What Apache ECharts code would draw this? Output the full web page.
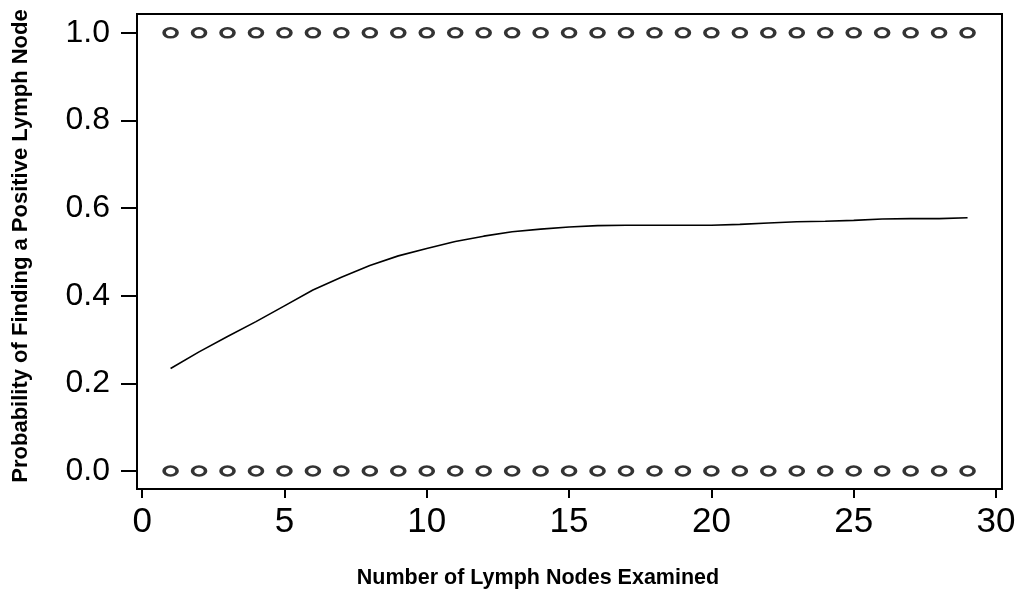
<!DOCTYPE html>
<html>
<head>
<meta charset="utf-8">
<title>Probability of Finding a Positive Lymph Node</title>
<script src="https://cdn.jsdelivr.net/npm/echarts@6/dist/echarts.min.js"></script>
<style>
  html, body { margin: 0; padding: 0; background: #fff; }
  #chart { width: 1024px; height: 592px; }
</style>
</head>
<body>
<div id="chart"></div>
<script>
// Number of lymph nodes examined (x positions)
const nodeCounts = [1, 2, 3, 4, 5, 6, 7, 8, 9, 10, 11, 12, 13, 14, 15,
                    16, 17, 18, 19, 20, 21, 22, 23, 24, 25, 26, 27, 28, 29];
// Fitted probability of finding a positive node
const fittedProb = [0.234, 0.272, 0.307, 0.341, 0.377, 0.413, 0.442, 0.469, 0.491, 0.508,
                    0.524, 0.536, 0.546, 0.552, 0.557, 0.560, 0.561, 0.561, 0.561, 0.561,
                    0.563, 0.566, 0.569, 0.570, 0.572, 0.575, 0.576, 0.576, 0.578];
// Observed outcomes (1 = positive node found, 0 = none)
const positiveOutcome = nodeCounts.map(() => 1);
const negativeOutcome = nodeCounts.map(() => 0);
const xTicks = [0, 5, 10, 15, 20, 25, 30];
const yTicks = [0.0, 0.2, 0.4, 0.6, 0.8, 1.0];

const FONT = '"Liberation Sans", Arial, sans-serif';
const chart = echarts.init(document.getElementById('chart'), null, { renderer: 'canvas' });

const pair = (xs, ys) => xs.map((x, i) => [x, ys[i]]);
const markerStyle = {
  type: 'scatter',
  symbol: 'circle',
  symbolSize: [13, 9],
  itemStyle: { color: '#fff', borderColor: '#000', borderWidth: 3 },
  silent: true,
  z: 3
};

chart.setOption({
  backgroundColor: '#fff',
  animation: false,
  // the frame extends slightly past the data range on every side
  grid: { left: 137, right: 22, top: 14, bottom: 103, show: true,
          borderColor: '#000', borderWidth: 2, backgroundColor: 'transparent' },
  xAxis: {
    type: 'value', min: -0.18, max: 30.21,
    axisLine: { show: false, onZero: false },
    axisTick: { show: true, length: 9, customValues: xTicks,
                lineStyle: { color: '#000', width: 2 } },
    axisLabel: { color: '#000', fontSize: 35, fontFamily: FONT, margin: 16,
                 customValues: xTicks },
    splitLine: { show: false }
  },
  yAxis: {
    type: 'value', min: -0.041, max: 1.043,
    axisLine: { show: false, onZero: false },
    axisTick: { show: true, length: 16, customValues: yTicks,
                lineStyle: { color: '#000', width: 2 } },
    axisLabel: { color: '#000', fontSize: 32, fontFamily: FONT, margin: 27,
                 customValues: yTicks, formatter: v => v.toFixed(1) },
    splitLine: { show: false }
  },
  graphic: [
    {
      type: 'text', x: 538, y: 578,
      style: { text: 'Number of Lymph Nodes Examined', fill: '#000',
               font: 'bold 21.5px ' + FONT, textAlign: 'center', textVerticalAlign: 'middle' }
    },
    {
      type: 'text', x: 21, y: 246, rotation: Math.PI / 2,
      style: { text: 'Probability of Finding a Positive Lymph Node', fill: '#000',
               font: 'bold 22px ' + FONT, textAlign: 'center', textVerticalAlign: 'middle' }
    }
  ],
  series: [
    {
      type: 'line',
      data: pair(nodeCounts, fittedProb),
      showSymbol: false,
      smooth: false,
      lineStyle: { color: '#000', width: 1.6 },
      silent: true,
      z: 2
    },
    Object.assign({ data: pair(nodeCounts, positiveOutcome) }, markerStyle),
    Object.assign({ data: pair(nodeCounts, negativeOutcome) }, markerStyle)
  ]
});
</script>
</body>
</html>
